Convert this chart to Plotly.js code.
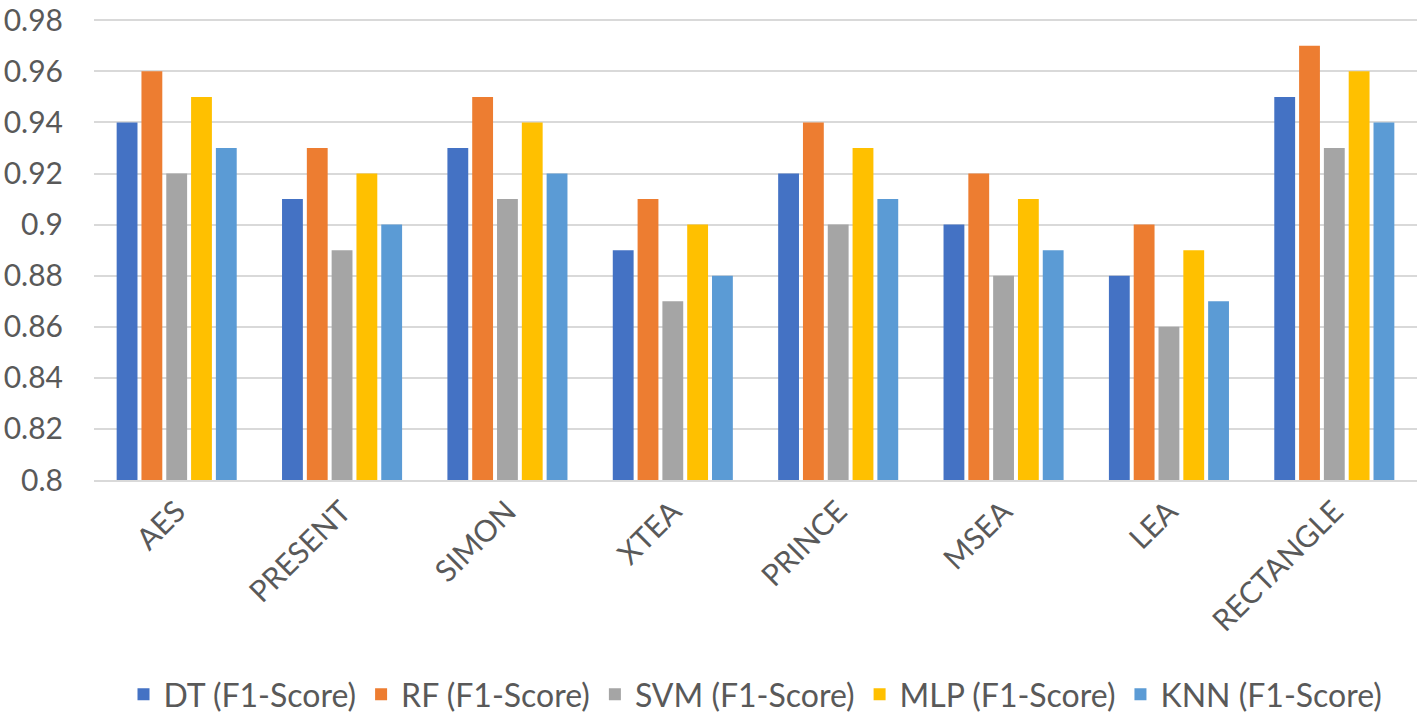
<!DOCTYPE html>
<html>
<head>
<meta charset="utf-8">
<script src="https://cdn.plot.ly/plotly-3.0.1.min.js"></script>
<style>
html, body { margin: 0; padding: 0; background: #fff; }
#myDiv { width: 1417px; height: 726px; }
</style>
</head>
<body>
<div id="myDiv"></div>
<script>
let categories = ['AES', 'PRESENT', 'SIMON', 'XTEA', 'PRINCE', 'MSEA', 'LEA', 'RECTANGLE'];
let dt = [0.94, 0.91, 0.93, 0.89, 0.92, 0.90, 0.88, 0.95];
let rf = [0.96, 0.93, 0.95, 0.91, 0.94, 0.92, 0.90, 0.97];
let svm = [0.92, 0.89, 0.91, 0.87, 0.90, 0.88, 0.86, 0.93];
let mlp = [0.95, 0.92, 0.94, 0.90, 0.93, 0.91, 0.89, 0.96];
let knn = [0.93, 0.90, 0.92, 0.88, 0.91, 0.89, 0.87, 0.94];
let yTicks = [0.8, 0.82, 0.84, 0.86, 0.88, 0.9, 0.92, 0.94, 0.96, 0.98];

function bars(name, y, color) {
  return {
    x: categories,
    y: y,
    type: 'bar',
    name: name,
    marker: {color: color},
    hoverinfo: 'y'
  };
}

let data = [
  bars('DT (F1-Score)', dt, '#4472C4'),
  bars('RF (F1-Score)', rf, '#ED7D31'),
  bars('SVM (F1-Score)', svm, '#A5A5A5'),
  bars('MLP (F1-Score)', mlp, '#FFC000'),
  bars('KNN (F1-Score)', knn, '#5B9BD5')
];

let fontFam = 'Lato, sans-serif';

let layout = {
  width: 1417,
  height: 726,
  margin: {l: 94, r: 0, t: 19, b: 246},
  paper_bgcolor: '#ffffff',
  plot_bgcolor: '#ffffff',
  font: {family: fontFam, size: 30, color: '#595959'},
  barmode: 'group',
  bargap: 0.25,
  bargroupgap: 0.16,
  xaxis: {
    tickangle: -45,
    showgrid: false,
    showline: true,
    linecolor: '#D9D9D9',
    linewidth: 2,
    ticks: '',
    tickfont: {family: fontFam, size: 30, color: '#595959'}
  },
  yaxis: {
    range: [0.8, 0.9805],
    tickvals: yTicks,
    ticktext: yTicks.map(String),
    showgrid: true,
    gridcolor: '#D9D9D9',
    gridwidth: 2,
    zeroline: false,
    showline: false,
    ticks: '',
    ticklabeloverflow: 'allow',
    ticklabelstandoff: 30,
    tickfont: {family: fontFam, size: 30, color: '#595959'}
  },
  showlegend: true,
  legend: {
    orientation: 'h',
    x: 0.5,
    xanchor: 'center',
    y: -0.525,
    yanchor: 'bottom',
    font: {family: fontFam, size: 32, color: '#595959'},
    itemwidth: 30,
    traceorder: 'normal'
  }
};

Plotly.newPlot('myDiv', data, layout, {displayModeBar: false});
</script>
</body>
</html>
